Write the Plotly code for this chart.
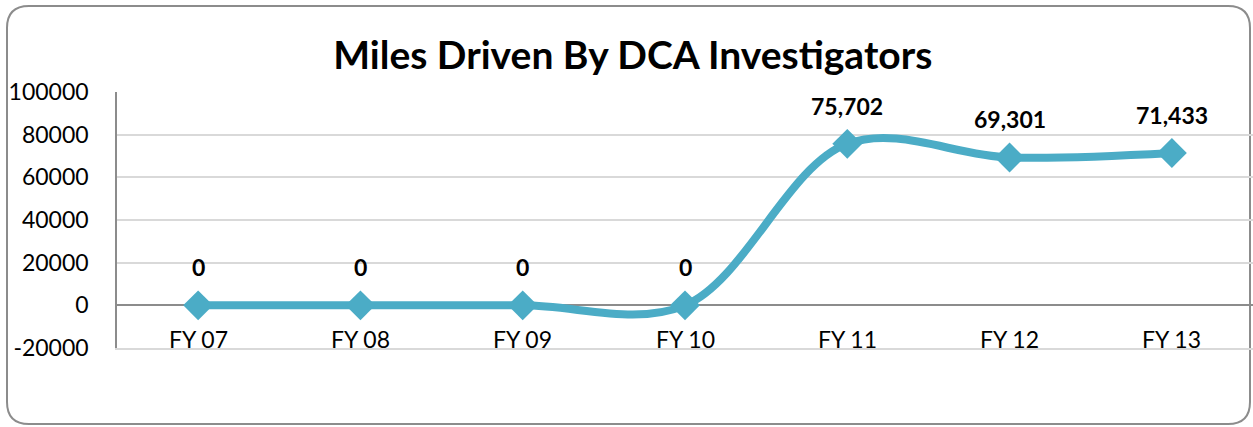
import plotly.graph_objects as go

# chart data
categories = ['FY 07', 'FY 08', 'FY 09', 'FY 10', 'FY 11', 'FY 12', 'FY 13']
miles = [0, 0, 0, 0, 75702, 69301, 71433]
y_ticks = [-20000, 0, 20000, 40000, 60000, 80000, 100000]
y_tick_labels = ['-20000', '0', '20000', '40000', '60000', '80000', '100000']

W, H = 1253, 427
ML, MR, MT, MB = 117, 0, 92, 79
LINE_COLOR = '#4BACC6'
FONT = 'Lato, Open Sans, sans-serif'


def px_to_paper(px, py):
    pw = W - ML - MR
    ph = H - MT - MB
    return (px - ML) / pw, (H - MB - py) / ph


def rounded_box(x0, y0, x1, y1, r):
    # path for a rounded rectangle given in pixel coordinates
    pts = [
        ('M', [(x0 + r, y0)]),
        ('L', [(x1 - r, y0)]),
        ('Q', [(x1, y0), (x1, y0 + r)]),
        ('L', [(x1, y1 - r)]),
        ('Q', [(x1, y1), (x1 - r, y1)]),
        ('L', [(x0 + r, y1)]),
        ('Q', [(x0, y1), (x0, y1 - r)]),
        ('L', [(x0, y0 + r)]),
        ('Q', [(x0, y0), (x0 + r, y0)]),
    ]
    out = []
    for cmd, coords in pts:
        parts = []
        for px, py in coords:
            a, b = px_to_paper(px, py)
            parts.append('{:.5f},{:.5f}'.format(a, b))
        out.append(cmd + ' ' + ' '.join(parts))
    return ' '.join(out) + ' Z'


x_idx = list(range(len(categories)))

fig = go.Figure()
fig.add_trace(go.Scatter(
    x=x_idx,
    y=miles,
    mode='lines+markers',
    line=dict(color=LINE_COLOR, width=8, shape='spline', smoothing=1.0),
    marker=dict(symbol='diamond', size=23, color=LINE_COLOR),
    hoverinfo='x+y',
    showlegend=False,
))

# data labels
for i, v in zip(x_idx, miles):
    fig.add_annotation(
        x=i, y=v, text='<b>{:,}</b>'.format(v),
        showarrow=False, yanchor='middle', yshift=38,
        font=dict(family=FONT, size=23, color='#000000'),
    )

# category labels sit just under the zero line
for i, c in zip(x_idx, categories):
    fig.add_annotation(
        x=i, y=0, text=c, showarrow=False,
        yanchor='middle', yshift=-34,
        font=dict(family=FONT, size=23, color='#000000'),
    )

fig.add_shape(
    type='path', xref='paper', yref='paper',
    path=rounded_box(7, 6, 1250, 424, 22),
    line=dict(color='#8c8c8c', width=2),
    layer='below',
)

fig.update_layout(
    width=W, height=H,
    margin=dict(l=ML, r=MR, t=MT, b=MB),
    paper_bgcolor='white',
    plot_bgcolor='white',
    title=dict(
        text='<b>Miles Driven By DCA Investigators</b>',
        x=0.505, xanchor='center', y=0.87, yanchor='middle',
        font=dict(family=FONT, size=39, color='#000000'),
    ),
    xaxis=dict(
        range=[-0.5, 6.5],
        showticklabels=False,
        showgrid=False,
        zeroline=False,
        # light line along the -20000 gridline
        showline=True,
        linecolor='#d9d9d9',
        linewidth=1.5,
        fixedrange=True,
    ),
    yaxis=dict(
        range=[-20000, 100000],
        tickvals=y_ticks,
        ticktext=y_tick_labels,
        tickfont=dict(family=FONT, size=23, color='#000000'),
        ticklabelstandoff=22,
        showgrid=True,
        gridcolor='#d9d9d9',
        gridwidth=1.5,
        zeroline=True,
        zerolinecolor='#8c8c8c',
        zerolinewidth=1.5,
        showline=True,
        linecolor='#8c8c8c',
        linewidth=1.5,
        fixedrange=True,
    ),
)

# page body margin would shift the chart by 8px
fig.write_html('out.html', config={'displayModeBar': False},
               post_script="document.body.style.margin='0';")
